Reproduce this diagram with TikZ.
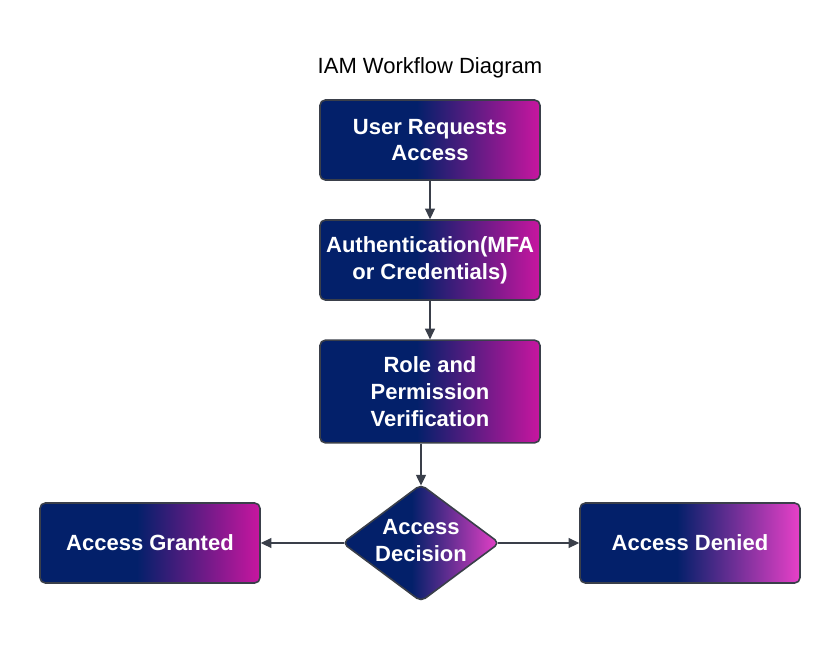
\documentclass[tikz,border=0pt]{standalone}
\usepackage{fontspec}
\setmainfont{Liberation Sans}
\usetikzlibrary{arrows.meta,shapes.geometric}
\definecolor{iam_navy}{RGB}{3, 32, 106}
\definecolor{iam_magenta}{RGB}{200, 22, 160}
\definecolor{iam_pink}{RGB}{232, 64, 200}
\definecolor{iam_edge}{RGB}{58, 63, 74}
\pgfdeclarehorizontalshading{iamfade}{100bp}{color(0bp)=(iam_navy); color(47bp)=(iam_navy);
  color(75bp)=(iam_magenta); color(100bp)=(iam_magenta)}
\pgfdeclarehorizontalshading{iamfadepink}{100bp}{color(0bp)=(iam_navy); color(47bp)=(iam_navy);
  color(75bp)=(iam_pink); color(100bp)=(iam_pink)}
\tikzstyle{box}=[rectangle,rounded corners=4pt,shade,shading=iamfade,draw=iam_edge,
  line width=1.2pt,inner sep=3pt,minimum width=165pt,minimum height=60pt,
  text=white,align=center,font=\bfseries\fontsize{16.5}{20}\selectfont]
\tikzstyle{boxpink}=[box,shading=iamfadepink]
\tikzstyle{dec}=[diamond,aspect=1.34,rounded corners=4pt,shade,shading=iamfadepink,
  draw=iam_edge,line width=1.2pt,inner sep=0pt,minimum width=118pt,minimum height=88pt,
  text=white,align=center,font=\bfseries\fontsize{16.5}{20}\selectfont]
\tikzstyle{link}=[draw=iam_edge,line width=0.9pt,-{Triangle[length=8pt,width=7.5pt]}]
\tikzstyle{none}=[]

\begin{document}
\begin{tikzpicture}[x=0.75pt,y=-0.75pt]
        \useasboundingbox (0, 0) rectangle (840, 644);
        \node [style=none,font=\fontsize{16.5}{20}\selectfont] (0) at (430, 68) {IAM Workflow Diagram};
		\node [style=box] (1) at (430, 140) {User Requests\\Access};
		\node [style=box] (2) at (430, 260) {Authentication(MFA\\or Credentials)};
		\node [style=box,minimum height=77pt] (3) at (430, 391.5) {Role and\\Permission\\Verification};
		\node [style=dec] (4) at (421, 543) {Access\\Decision\vphantom{g}};
		\node [style=box] (5) at (150, 543) {Access Granted};
		\node [style=boxpink] (6) at (690, 543) {Access Denied};
		\draw [style=link] (1) to (2);
		\draw [style=link] (2) to (3);
		\draw [style=link] (3.south -| 4.north) to ([yshift=-1.5pt]4.north);
		\draw [style=link] ([xshift=1.5pt]4.west) to (5);
		\draw [style=link] ([xshift=-1.5pt]4.east) to (6);
    \end{tikzpicture}
\end{document}
